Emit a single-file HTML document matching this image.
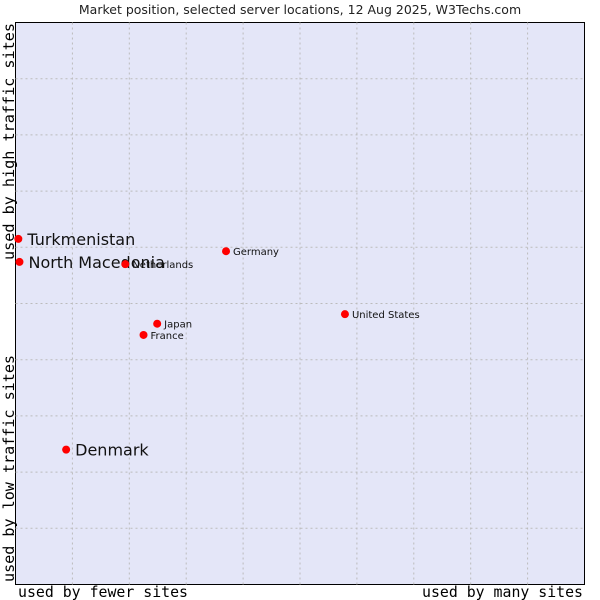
<!DOCTYPE html>
<html><head><meta charset="utf-8"><style>
body{margin:0;background:#fff;}
svg{display:block;font-family:"DejaVu Sans","Liberation Sans",sans-serif;}
</style></head><body>
<svg width="600" height="600" viewBox="0 0 600 600">
<text x="300" y="14" text-anchor="middle" font-size="12.5" fill="#222">Market position, selected server locations, 12 Aug 2025, W3Techs.com</text>
<rect x="15.5" y="22.5" width="569" height="562" fill="#e4e6f8" stroke="#000"/>
<g id="grid"></g>
<g id="pts"></g>
<text x="18" y="597" textLength="170" lengthAdjust="spacingAndGlyphs" font-family="'DejaVu Sans Mono','Liberation Mono',monospace" font-size="15" fill="#000">used by fewer sites</text>
<text x="422" y="597" textLength="161" lengthAdjust="spacingAndGlyphs" font-family="'DejaVu Sans Mono','Liberation Mono',monospace" font-size="15" fill="#000">used by many sites</text>
<text transform="translate(14,260) rotate(-90)" textLength="237" lengthAdjust="spacingAndGlyphs" font-family="'DejaVu Sans Mono','Liberation Mono',monospace" font-size="15" fill="#000">used by high traffic sites</text>
<text transform="translate(14,582) rotate(-90)" textLength="227" lengthAdjust="spacingAndGlyphs" font-family="'DejaVu Sans Mono','Liberation Mono',monospace" font-size="15" fill="#000">used by low traffic sites</text>
</svg>
<script>
const names=["Turkmenistan","North Macedonia","Netherlands","Germany","United States","Japan","France","Denmark"];
const xVals=[0.5,0.7,19.3,37.0,57.9,24.9,22.5,8.9];
const yVals=[61.5,57.4,57.0,59.3,48.1,46.4,44.4,24.0];
const bigLabel=[true,true,false,false,false,false,false,true];
const L=15.5,T=22.5,W=569,H=562;
const sx=v=>L+v/100*W, sy=v=>T+H-v/100*H;
const ns="http://www.w3.org/2000/svg";
const g=document.getElementById('grid');
for(let i=1;i<10;i++){
 let v=document.createElementNS(ns,'line');
 
 
 v.setAttribute('x1',sx(i*10));v.setAttribute('x2',sx(i*10));v.setAttribute('y1',T);v.setAttribute('y2',T+H);
 v.setAttribute('stroke','#bbb');v.setAttribute('stroke-dasharray','2,3');g.appendChild(v);
 let h=document.createElementNS(ns,'line');
 
 
 h.setAttribute('y1',sy(i*10));h.setAttribute('y2',sy(i*10));h.setAttribute('x1',L);h.setAttribute('x2',L+W);
 h.setAttribute('stroke','#bbb');h.setAttribute('stroke-dasharray','2,3');g.appendChild(h);
}
const p=document.getElementById('pts');
names.forEach((n,i)=>{
 const x=sx(xVals[i]),y=sy(yVals[i]);
 const c=document.createElementNS(ns,'circle');
 
 
 c.setAttribute('cx',x);c.setAttribute('cy',y);c.setAttribute('r',4);c.setAttribute('fill','#f00');p.appendChild(c);
 const t=document.createElementNS(ns,'text');
 
 
 t.setAttribute('x',x+(bigLabel[i]?9:7));t.setAttribute('y',y+(bigLabel[i]?6:4));
 t.setAttribute('font-size',bigLabel[i]?16:10);t.setAttribute('fill','#111');
 t.textContent=n;p.appendChild(t);
});
</script>
</body></html>
